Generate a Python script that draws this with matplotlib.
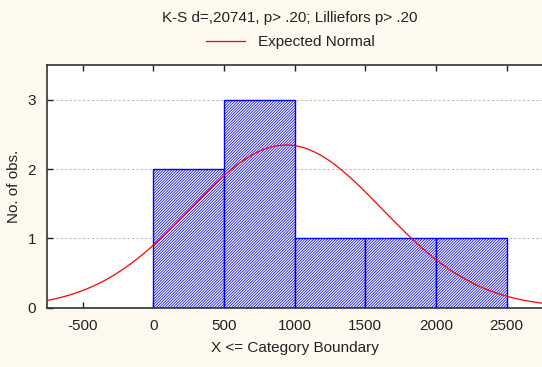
import matplotlib
matplotlib.use('Agg')
import matplotlib.pyplot as plt
import numpy as np

# data: histogram bins (upper boundaries) and counts
bin_edges = [-500, 0, 500, 1000, 1500, 2000, 2500]
counts = [0, 2, 3, 1, 1, 1]
# expected normal parameters
norm_mean = 940
norm_sd = 680
n_obs = sum(counts)
x_ticks = [-500, 0, 500, 1000, 1500, 2000, 2500]
y_ticks = [0, 1, 2, 3]

plt.rcParams['font.family'] = ['Liberation Sans', 'DejaVu Sans']
plt.rcParams['axes.unicode_minus'] = False
plt.rcParams['hatch.linewidth'] = 0.55
plt.rcParams['hatch.color'] = '#0000ff'

bg = '#fdf9ef'
fig = plt.figure(figsize=(5.42, 3.67), dpi=100, facecolor=bg)
ax = fig.add_axes([0.087, 0.161, 0.913, 0.662])
ax.set_facecolor('white')

width = bin_edges[1] - bin_edges[0]
ax.bar(bin_edges[:-1], counts, width=width, align='edge', facecolor='white',
       edgecolor='#0000ff', hatch='/' * 12, linewidth=1.0, zorder=2)

xs = np.linspace(-750, 2750, 400)
ys = n_obs * width / (norm_sd * np.sqrt(2 * np.pi)) * np.exp(-0.5 * ((xs - norm_mean) / norm_sd) ** 2)
line, = ax.plot(xs, ys, color='#ff0000', linewidth=0.9, zorder=3, label='Expected Normal')

ax.set_xlim(-750, 2750)
ax.set_ylim(0, 3.5)
ax.set_xticks(x_ticks)
ax.set_yticks(y_ticks)
ax.tick_params(direction='in', top=True, right=False, length=4, width=1,
               labelsize=11, colors='#222222', pad=8)
ax.yaxis.grid(True, linestyle=(0, (2, 2)), color='#bbbbbb', linewidth=0.8, zorder=0)
ax.set_axisbelow(True)
for s in ['left', 'bottom', 'top']:
    ax.spines[s].set_color('#333333')
    ax.spines[s].set_linewidth(1.2)
ax.spines['right'].set_visible(False)

ax.set_xlabel('X <= Category Boundary', fontsize=11, color='#222222', labelpad=6)
ax.set_ylabel('No. of obs.', fontsize=11, color='#222222', labelpad=5)

fig.text(0.535, 0.952, 'K-S d=,20741, p> .20; Lilliefors p> .20', ha='center', va='center',
         fontsize=11, color='#222222')
fig.legend(handles=[line], loc='center', bbox_to_anchor=(0.535, 0.885), frameon=False,
           fontsize=11, handlelength=2.6, labelcolor='#222222')

fig.savefig('out.png', dpi=100, facecolor=bg)
